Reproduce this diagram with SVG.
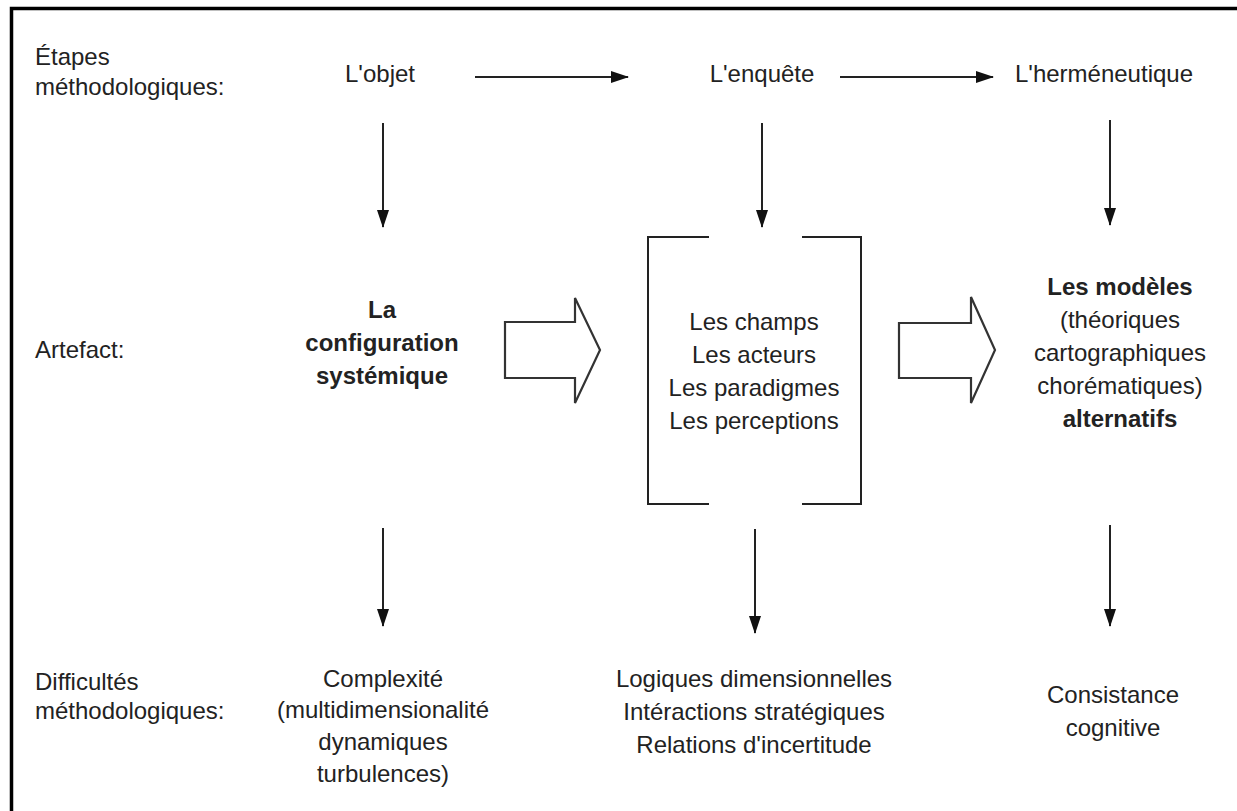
<svg xmlns="http://www.w3.org/2000/svg" width="1237" height="811" viewBox="0 0 1237 811">
<defs>
<style>
.t{font-family:"Liberation Sans",Arial,Helvetica,sans-serif;font-size:24px;fill:#222}
.c{text-anchor:middle}
.b{font-weight:bold}
.ln{stroke:#222;stroke-width:2;fill:none}
.blk{stroke:#333;stroke-width:2.2;fill:#fff;stroke-linejoin:miter}
</style>
<marker id="ah" viewBox="0 0 18 12" refX="17" refY="6" markerWidth="18" markerHeight="12" markerUnits="userSpaceOnUse" orient="auto">
<path d="M0,0 L18,6 L0,12 Z" fill="#111"/>
</marker>
</defs>
<rect width="1237" height="811" fill="#fff"/>
<path d="M11.5,811 V8.5 H1237" fill="none" stroke="#000" stroke-width="3.5"/>
<g id="labels">
<text class="t" x="35" y="65">Étapes</text>
<text class="t" x="35" y="95">méthodologiques:</text>
<text class="t" x="35" y="358">Artefact:</text>
<text class="t" x="35" y="690">Difficultés</text>
<text class="t" x="35" y="719">méthodologiques:</text>
</g>
<g id="objet"><text class="t c" x="380" y="82">L'objet</text></g>
<g id="enquete"><text class="t c" x="762" y="82">L'enquête</text></g>
<g id="hermeneutique"><text class="t c" x="1104" y="82">L'herméneutique</text></g>
<g id="configuration">
<text class="t c b" x="382" y="318">La</text>
<text class="t c b" x="382" y="351">configuration</text>
<text class="t c b" x="382" y="384">systémique</text>
</g>
<g id="enquete-box">
<path class="ln" d="M709,237 H648 V504 H709 M802,237 H861 V504 H802"/>
<text class="t c" x="754" y="330">Les champs</text>
<text class="t c" x="754" y="363">Les acteurs</text>
<text class="t c" x="754" y="396">Les paradigmes</text>
<text class="t c" x="754" y="429">Les perceptions</text>
</g>
<g id="modeles">
<text class="t c b" x="1120" y="295">Les modèles</text>
<text class="t c" x="1120" y="328">(théoriques</text>
<text class="t c" x="1120" y="361">cartographiques</text>
<text class="t c" x="1120" y="394">chorématiques)</text>
<text class="t c b" x="1120" y="427">alternatifs</text>
</g>
<g id="complexite">
<text class="t c" x="383" y="687">Complexité</text>
<text class="t c" x="383" y="718">(multidimensionalité</text>
<text class="t c" x="383" y="750">dynamiques</text>
<text class="t c" x="383" y="782">turbulences)</text>
</g>
<g id="logiques">
<text class="t c" x="754" y="687">Logiques dimensionnelles</text>
<text class="t c" x="754" y="720">Intéractions stratégiques</text>
<text class="t c" x="754" y="753">Relations d'incertitude</text>
</g>
<g id="consistance">
<text class="t c" x="1113" y="703">Consistance</text>
<text class="t c" x="1113" y="736">cognitive</text>
</g>
<g id="connectors">
<line class="ln" x1="475" y1="77" x2="628" y2="77" marker-end="url(#ah)"/>
<line class="ln" x1="840" y1="77" x2="993" y2="77" marker-end="url(#ah)"/>
<line class="ln" x1="383" y1="123" x2="383" y2="227" marker-end="url(#ah)"/>
<line class="ln" x1="762" y1="123" x2="762" y2="227" marker-end="url(#ah)"/>
<line class="ln" x1="1110" y1="120" x2="1110" y2="225" marker-end="url(#ah)"/>
<line class="ln" x1="383" y1="528" x2="383" y2="626" marker-end="url(#ah)"/>
<line class="ln" x1="755" y1="529" x2="755" y2="633" marker-end="url(#ah)"/>
<line class="ln" x1="1110" y1="525" x2="1110" y2="626" marker-end="url(#ah)"/>
<path class="blk" d="M505,322 H575 V298 L600,350 L575,403 V378 H505 Z"/>
<path class="blk" d="M899,323 H971 V297 L995,350 L971,403 V378 H899 Z"/>
</g>
</svg>
